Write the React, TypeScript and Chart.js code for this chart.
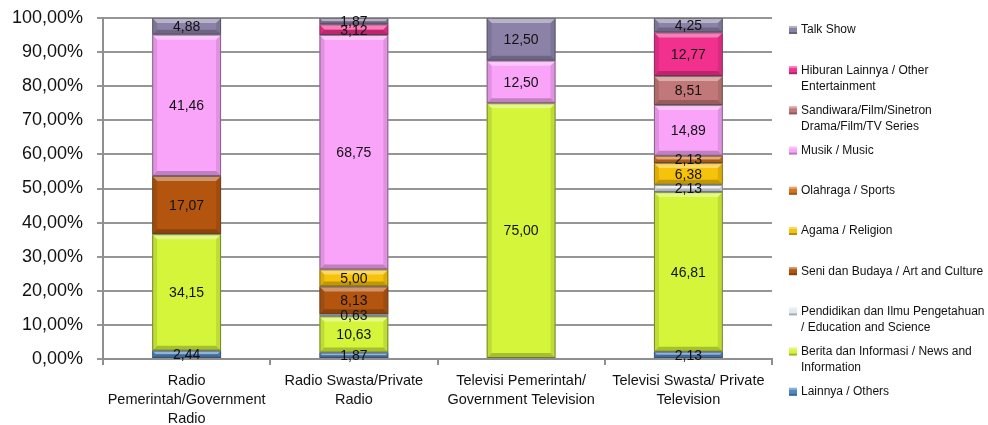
import React, { useEffect, useRef } from 'react';
import { Chart, registerables } from 'chart.js';

Chart.register(...registerables);

const categories: string[][] = [
  ['Radio', 'Pemerintah/Government', 'Radio'],
  ['Radio Swasta/Private', 'Radio'],
  ['Televisi Pemerintah/', 'Government Television'],
  ['Televisi Swasta/ Private', 'Television'],
];

const yTicks = [0, 10, 20, 30, 40, 50, 60, 70, 80, 90, 100];

// series, bottom to top (null = no value)
const lainnya = [2.44, 1.87, null, 2.13];
const berita = [34.15, 10.63, 75.0, 46.81];
const pendidikan = [null, 0.63, null, 2.13];
const seni = [17.07, 8.13, null, null];
const agama = [null, 5.0, null, 6.38];
const olahraga = [null, null, null, 2.13];
const musik = [41.46, 68.75, 12.5, 14.89];
const sandiwara = [null, null, null, 8.51];
const hiburan = [null, 3.12, null, 12.77];
const talkShow = [4.88, 1.87, 12.5, 4.25];

const seriesNames = [
  'Lainnya / Others',
  'Berita dan Informasi / News and\nInformation',
  'Pendidikan dan Ilmu Pengetahuan\n/ Education and Science',
  'Seni dan Budaya / Art and Culture',
  'Agama / Religion',
  'Olahraga / Sports',
  'Musik / Music',
  'Sandiwara/Film/Sinetron\nDrama/Film/TV Series',
  'Hiburan Lainnya / Other\nEntertainment',
  'Talk Show',
];
const seriesValues = [lainnya, berita, pendidikan, seni, agama, olahraga, musik, sandiwara, hiburan, talkShow];
const seriesColors = [
  '#4f86c6',
  '#d4f53a',
  '#dfe9f1',
  '#b3550f',
  '#f7c20a',
  '#d8741f',
  '#f9a3f9',
  '#c27878',
  '#f2318f',
  '#8c82a8',
];

const FONT = '"Liberation Sans", Arial, sans-serif';

const fmt = (v: number) => v.toFixed(2).replace('.', ',');

const bevelAndLabels = {
  id: 'bevelAndLabels',
  afterDatasetsDraw(chart: any) {
    const ctx = chart.ctx;
    ctx.save();
    chart.data.datasets.forEach((ds: any, di: number) => {
      const meta = chart.getDatasetMeta(di);
      meta.data.forEach((el: any) => {
        const p = el.getProps(['x', 'y', 'base', 'width'], true);
        if (p.y == null || isNaN(p.y)) return;
        const top = Math.min(p.y, p.base);
        const bot = Math.max(p.y, p.base);
        const h = bot - top;
        if (h <= 0.5) return;
        const l = p.x - p.width / 2;
        const r = p.x + p.width / 2;
        const b = Math.min(5, h / 2);
        ctx.fillStyle = 'rgba(255,255,255,0.38)';
        ctx.beginPath();
        ctx.moveTo(l, top); ctx.lineTo(r, top); ctx.lineTo(r - b, top + b); ctx.lineTo(l + b, top + b); ctx.closePath();
        ctx.fill();
        ctx.fillStyle = 'rgba(0,0,0,0.22)';
        ctx.beginPath();
        ctx.moveTo(l, bot); ctx.lineTo(r, bot); ctx.lineTo(r - b, bot - b); ctx.lineTo(l + b, bot - b); ctx.closePath();
        ctx.fill();
        ctx.fillStyle = 'rgba(0,0,0,0.1)';
        ctx.beginPath();
        ctx.moveTo(l, top); ctx.lineTo(l + b, top + b); ctx.lineTo(l + b, bot - b); ctx.lineTo(l, bot); ctx.closePath();
        ctx.fill();
        ctx.beginPath();
        ctx.moveTo(r, top); ctx.lineTo(r - b, top + b); ctx.lineTo(r - b, bot - b); ctx.lineTo(r, bot); ctx.closePath();
        ctx.fill();
        ctx.strokeStyle = 'rgba(60,60,60,0.55)';
        ctx.lineWidth = 1;
        ctx.strokeRect(l + 0.5, top + 0.5, p.width - 1, h - 1);
      });
    });
    ctx.font = `14px ${FONT}`;
    ctx.fillStyle = '#111';
    ctx.textAlign = 'center';
    ctx.textBaseline = 'middle';
    chart.data.datasets.forEach((ds: any, di: number) => {
      const meta = chart.getDatasetMeta(di);
      meta.data.forEach((el: any, i: number) => {
        const v = ds.data[i];
        if (v == null) return;
        const p = el.getProps(['x', 'y', 'base'], true);
        ctx.fillText(fmt(v), p.x, (p.y + p.base) / 2 + 1);
      });
    });
    ctx.restore();
  },
};

const sideLegend = {
  id: 'sideLegend',
  afterDraw(chart: any) {
    const ctx = chart.ctx;
    ctx.save();
    ctx.font = `12px ${FONT}`;
    ctx.textBaseline = 'middle';
    ctx.textAlign = 'left';
    const n = chart.data.datasets.length;
    const x0 = chart.chartArea.right + 17;
    for (let k = 0; k < n; k++) {
      const di = n - 1 - k;
      const ds = chart.data.datasets[di];
      const y = 30 + k * 40.2;
      ctx.fillStyle = ds.backgroundColor;
      ctx.fillRect(x0, y - 4, 8, 8);
      ctx.fillStyle = 'rgba(0,0,0,0.25)';
      ctx.fillRect(x0, y + 2, 8, 2);
      ctx.fillStyle = 'rgba(255,255,255,0.35)';
      ctx.fillRect(x0, y - 4, 8, 2);
      ctx.fillStyle = '#111';
      const lines = String(ds.label).split('\n');
      lines.forEach((ln: string, li: number) => {
        ctx.fillText(ln, x0 + 12, y + li * 16.5);
      });
    }
    ctx.restore();
  },
};

export default function App() {
  const ref = useRef<HTMLCanvasElement | null>(null);
  useEffect(() => {
    if (!ref.current) return;
    const chart = new Chart(ref.current, {
      type: 'bar',
      data: {
        labels: categories,
        datasets: seriesValues.map((vals, i) => ({
          label: seriesNames[i],
          data: vals,
          backgroundColor: seriesColors[i],
          borderWidth: 0,
          barPercentage: 0.412,
          categoryPercentage: 1,
        })),
      },
      options: {
        animation: false,
        responsive: true,
        maintainAspectRatio: false,
        layout: { padding: { top: 18, right: 216, left: 0, bottom: 0 } },
        plugins: {
          legend: { display: false },
          tooltip: { enabled: false },
        },
        scales: {
          x: {
            stacked: true,
            offset: true,
            grid: {
              offset: true,
              drawOnChartArea: false,
              drawTicks: true,
              tickLength: 6,
              color: '#8f8f8f',
              lineWidth: 2,
            },
            border: { color: '#8f8f8f', width: 2 },
            ticks: {
              color: '#111',
              font: { family: FONT, size: 14.5, lineHeight: 1.33 },
              padding: 6,
              maxRotation: 0,
              autoSkip: false,
            },
            afterFit: (s: any) => { s.height = 66; s.paddingLeft = 0; s.paddingRight = 0; },
          },
          y: {
            stacked: true,
            min: 0,
            max: 100,
            afterBuildTicks: (s: any) => { s.ticks = yTicks.map((v) => ({ value: v })); },
            grid: { color: '#969696', lineWidth: 2, tickLength: 6 },
            border: { color: '#8f8f8f', width: 2 },
            ticks: {
              color: '#111',
              font: { family: FONT, size: 18 },
              padding: 14,
              callback: (v: any) => fmt(Number(v)) + '%',
            },
            afterFit: (s: any) => { s.width = 103; s.paddingTop = 0; s.paddingBottom = 0; },
          },
        },
      },
      plugins: [bevelAndLabels, sideLegend],
    });
    return () => chart.destroy();
  }, []);
  return (
    <div style={{ position: 'fixed', left: 0, top: 0, width: 988, height: 425, background: '#fff' }}>
      <canvas ref={ref} />
    </div>
  );
}
